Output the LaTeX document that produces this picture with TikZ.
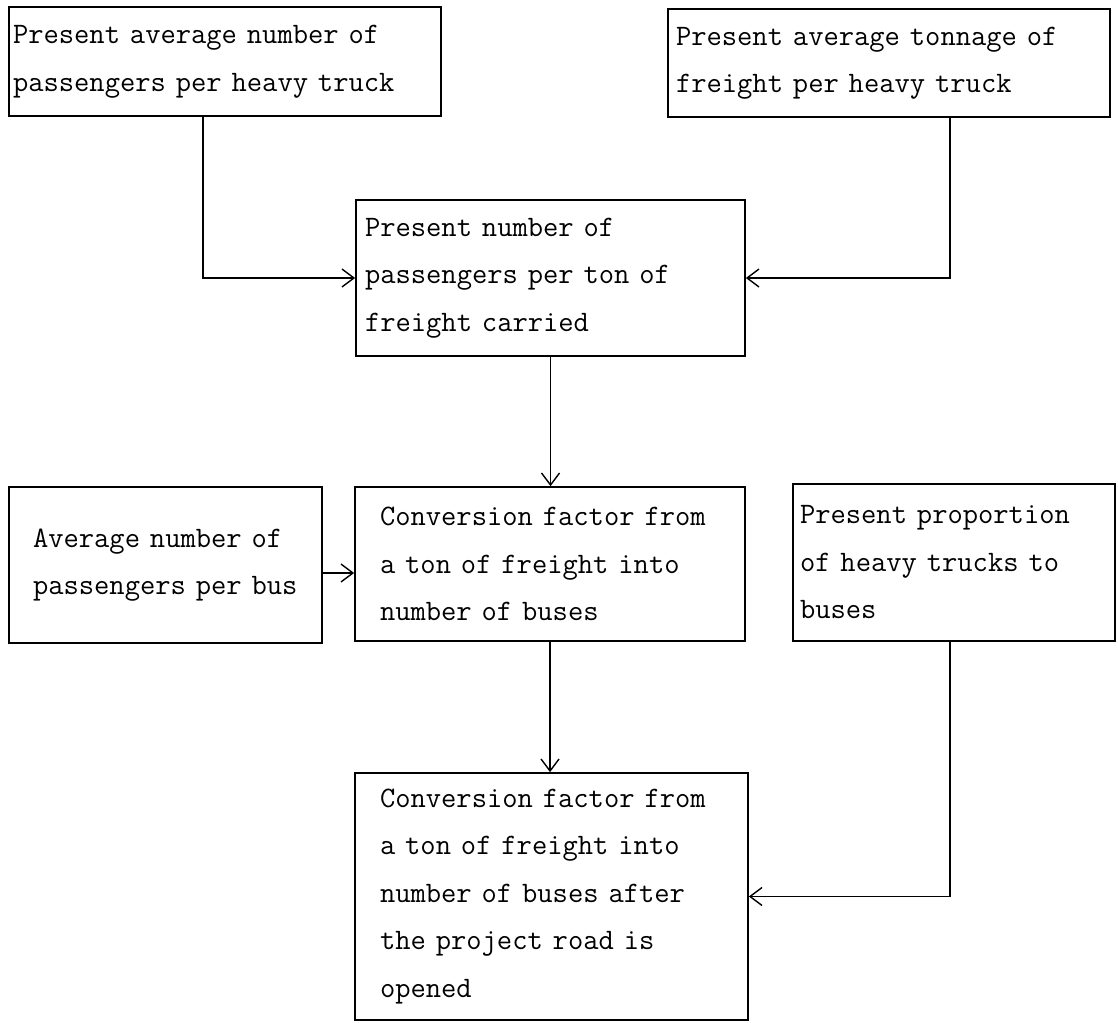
\documentclass[tikz,border=0pt]{standalone}
\usepackage{tikz}
\usetikzlibrary{arrows.meta}

\begin{document}
\begin{tikzpicture}[
        x=1pt,y=-1pt,
        box/.style={draw,line width=1.7pt,align=left,inner ysep=0pt,
            font=\fontsize{29.7}{47.5}\selectfont\ttfamily},
        flow/.style={line width=1.7pt,-{Straight Barb[length=12pt,width=18pt,line width=1.4pt]}}
    ]
        \useasboundingbox (0,0) rectangle (1118,1022);

        \node[box,minimum width=432,minimum height=109,inner xsep=4,text width=424] (pass) at (225,61.5)
            {Present average number of\\passengers per heavy truck};
        \node[box,minimum width=442,minimum height=108,inner xsep=8,text width=426] (tonnage) at (889,63)
            {Present average tonnage of\\freight per heavy truck};
        \node[box,minimum width=389,minimum height=156,inner xsep=9,text width=371] (ratio) at (550.5,278)
            {Present number of\\passengers per ton of\\freight carried};
        \node[box,minimum width=313,minimum height=156,inner xsep=24,text width=265] (busavg) at (165.5,565)
            {Average number of\\passengers per bus};
        \node[box,minimum width=390,minimum height=154,inner xsep=25,text width=340] (conv) at (550,564)
            {Conversion factor from\\a ton of freight into\\number of buses};
        \node[box,minimum width=322,minimum height=157,inner xsep=7,text width=308] (prop) at (954,562.5)
            {Present proportion\\of heavy trucks to\\buses};
        \node[box,minimum width=393,minimum height=247,inner xsep=25,text width=343] (after) at (551.5,896.5)
            {Conversion factor from\\a ton of freight into\\number of buses after\\the project road is\\opened};

        \draw[flow] ([xshift=-22pt]pass.south) |- (ratio);
        \draw[flow] ([xshift=61pt]tonnage.south) |- (ratio);
        \draw[flow] (ratio.south) -- (ratio.south |- conv.north);
        \draw[flow] ([yshift=-8pt]busavg.east) -- ([yshift=-8pt]busavg.east -| conv.west);
        \draw[flow] (conv.south) -- (conv.south |- after.north);
        \draw[flow] ([xshift=-4pt]prop.south) |- (after);
    \end{tikzpicture}
\end{document}
